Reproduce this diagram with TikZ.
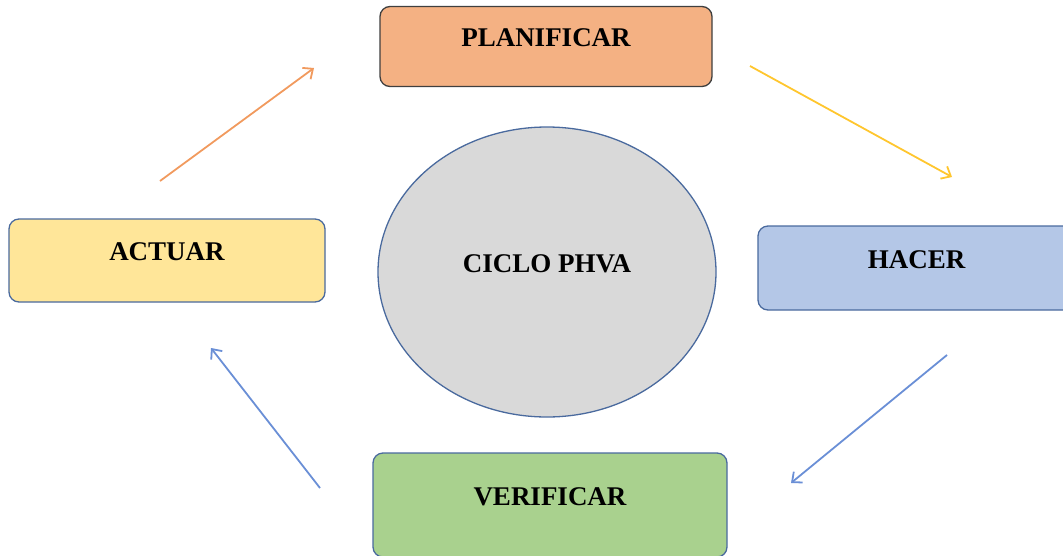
\documentclass[tikz,border=0pt]{standalone}
\usepackage{fontspec}
\setmainfont{Liberation Serif}
\usetikzlibrary{arrows.meta,shapes.geometric}
\definecolor{cPlan}{HTML}{F4B183}
\definecolor{cAct}{HTML}{FFE699}
\definecolor{cHac}{HTML}{B4C7E7}
\definecolor{cVer}{HTML}{A9D18E}
\definecolor{cCirc}{HTML}{D9D9D9}
\definecolor{bBlue}{HTML}{4A6A9E}
\definecolor{bDark}{HTML}{3F3F3F}
\definecolor{aOrange}{HTML}{F19A5E}
\definecolor{aYellow}{HTML}{FFC62E}
\definecolor{aBlue}{HTML}{6A8FD6}
\begin{document}
\begin{tikzpicture}[x=1pt,y=-1pt,
  stagebox/.style={rectangle, rounded corners=10pt, line width=1.3pt, draw=bBlue,
    inner sep=0pt, text height=12pt, text depth=12pt,
    font=\fontsize{27}{31}\selectfont\bfseries},
  flow/.style={line width=1.8pt, -{Straight Barb[length=8pt,width=14pt,line width=1.8pt]}}
]
\useasboundingbox (0,0) rectangle (1063,555);
\clip (0,0) rectangle (1063,555);
\node[stagebox, fill=cPlan, draw=bDark, minimum width=332pt, minimum height=80pt] (plan) at (546,46.5) {PLANIFICAR};
\node[stagebox, fill=cAct, minimum width=316pt, minimum height=83pt] (act) at (167,260.5) {ACTUAR};
\node[stagebox, fill=cHac, minimum width=317pt, minimum height=84pt] (hac) at (916.5,268) {HACER};
\node[stagebox, fill=cVer, minimum width=354pt, minimum height=104pt] (ver) at (550,505) {VERIFICAR};
\node[ellipse, draw=bBlue, line width=1.3pt, fill=cCirc, minimum width=338pt, minimum height=290pt,
  inner sep=0pt, text height=10pt, text depth=10pt, font=\fontsize{27}{31}\selectfont\bfseries] (ciclo) at (547,272) {CICLO PHVA};
\coordinate (a1s) at (160,181);
\coordinate (a1e) at (314,68);
\coordinate (a2s) at (750,66);
\coordinate (a2e) at (952,177);
\coordinate (a3s) at (947,355);
\coordinate (a3e) at (791,483);
\coordinate (a4s) at (320,488);
\coordinate (a4e) at (211,348);
\draw[flow, draw=aOrange] (a1s) -- (a1e);
\draw[flow, draw=aYellow] (a2s) -- (a2e);
\draw[flow, draw=aBlue] (a3s) -- (a3e);
\draw[flow, draw=aBlue] (a4s) -- (a4e);
\end{tikzpicture}
\end{document}
